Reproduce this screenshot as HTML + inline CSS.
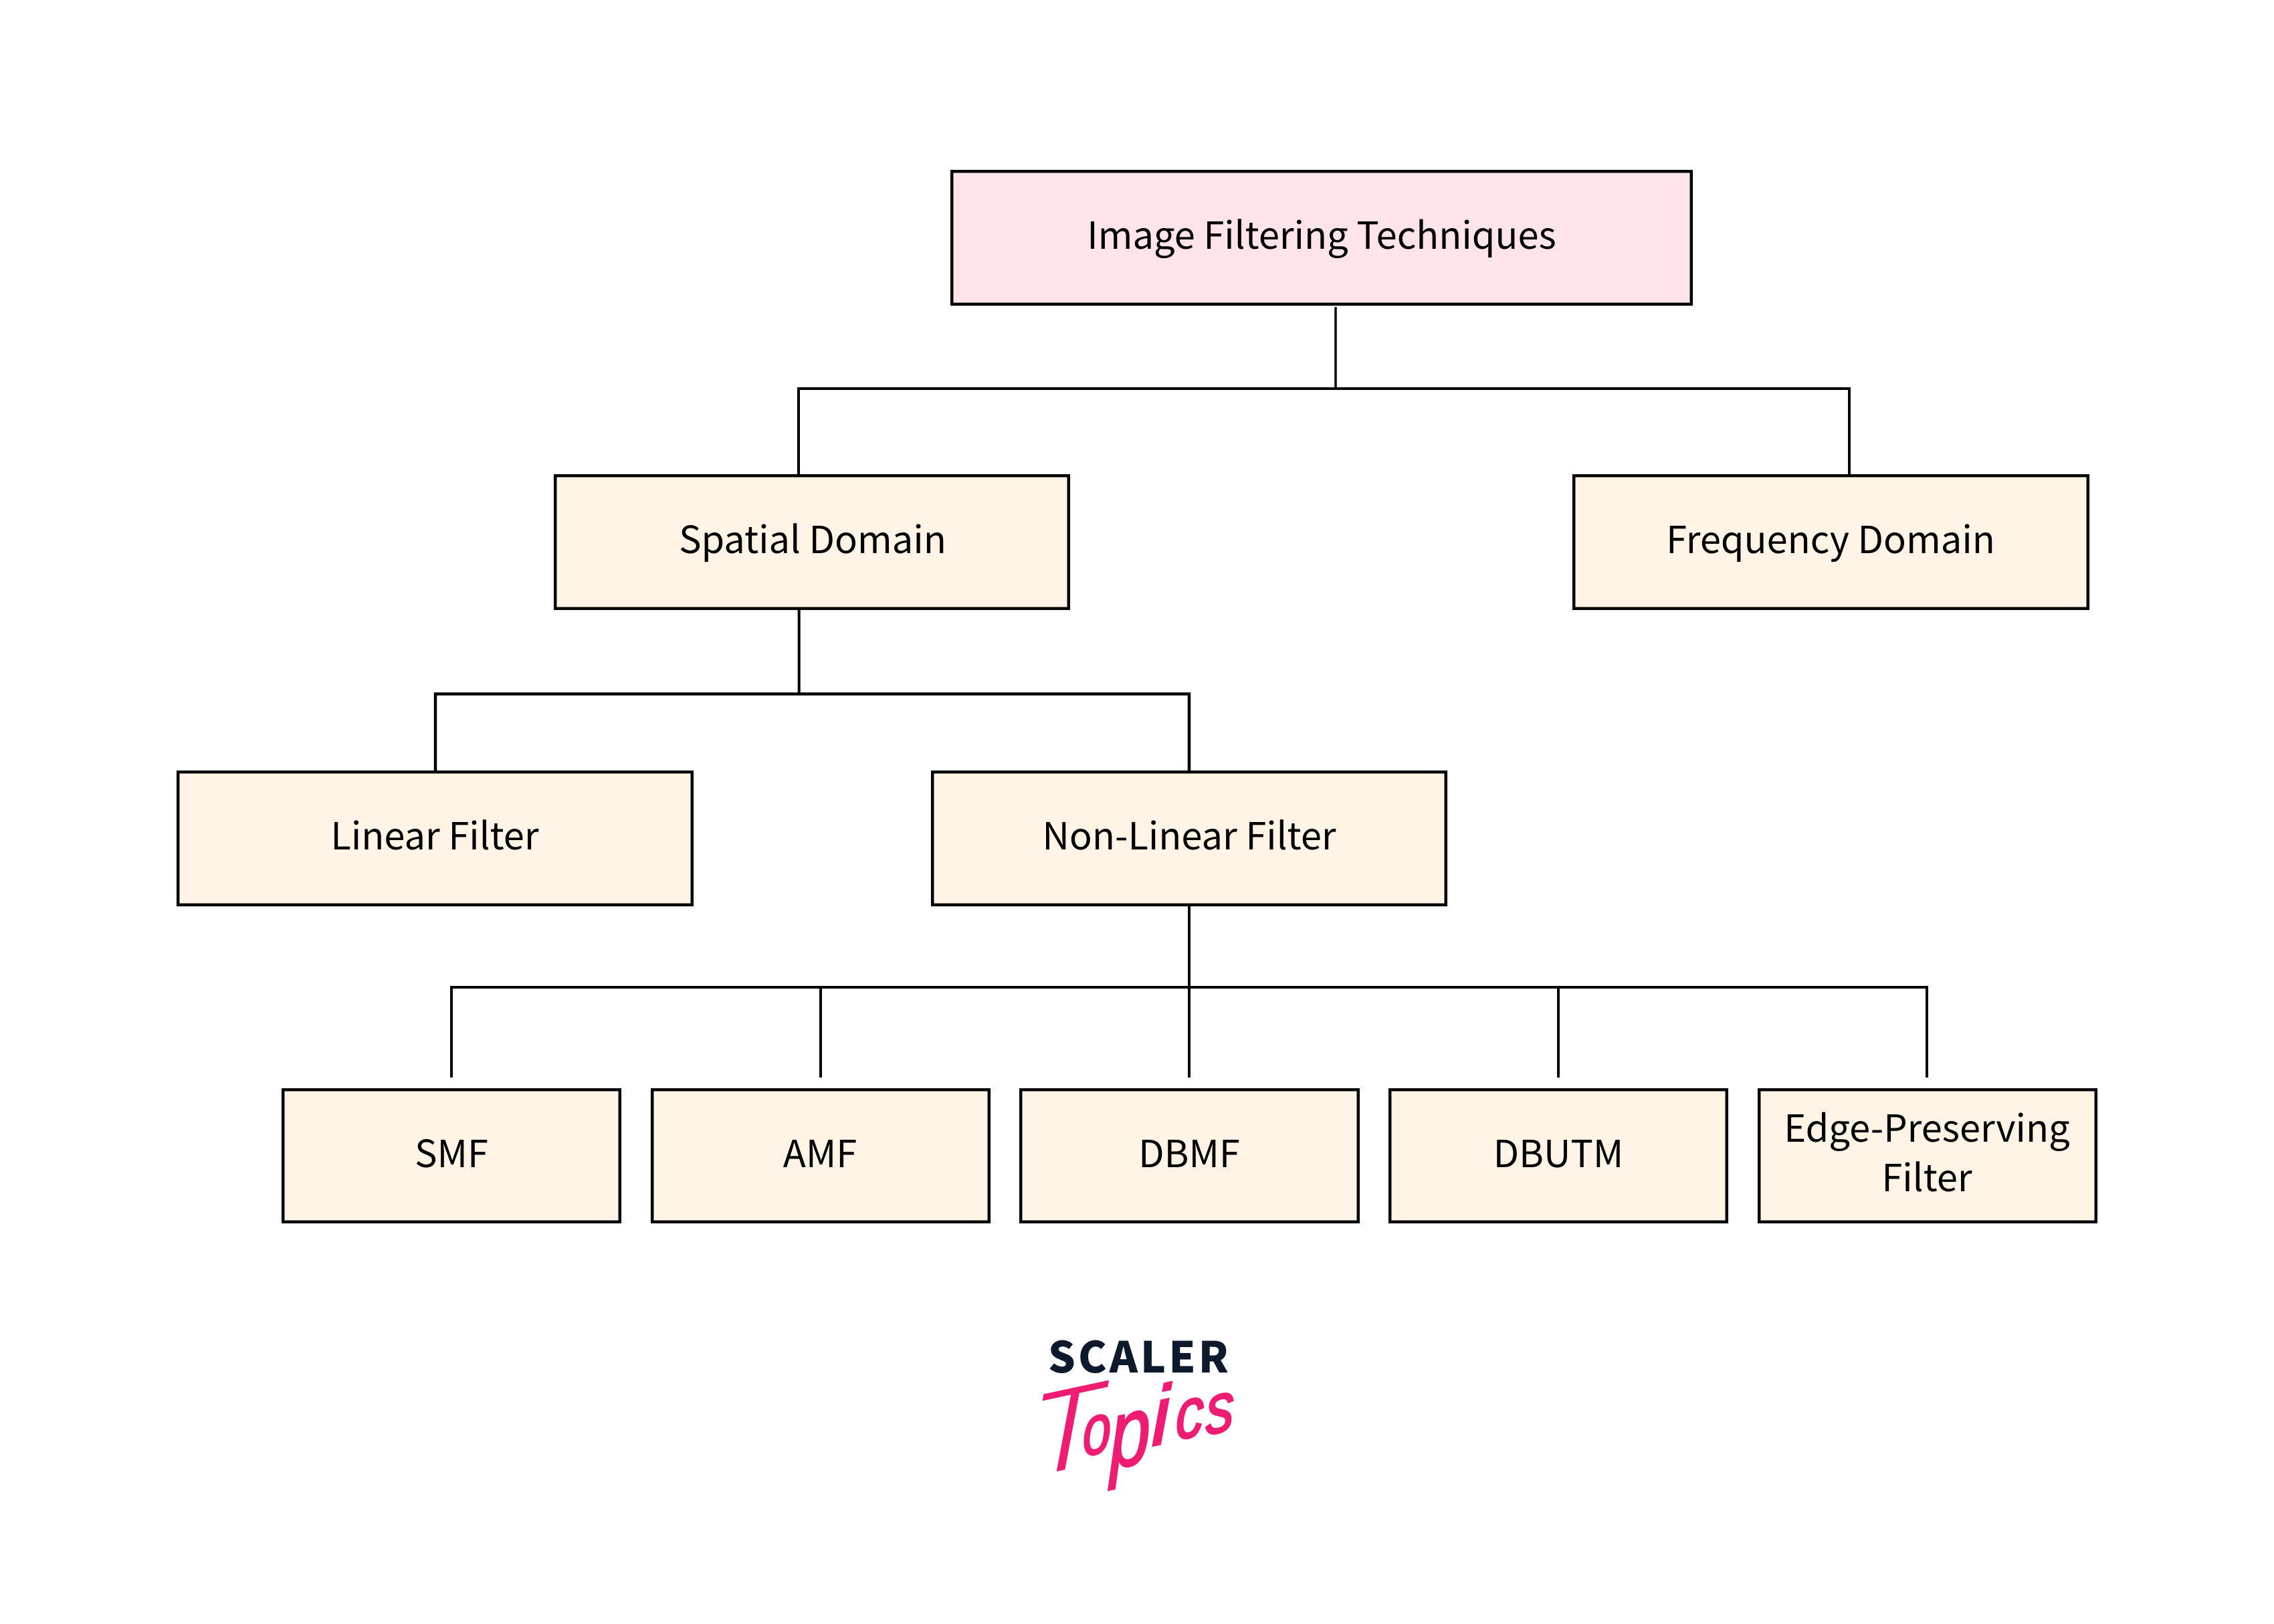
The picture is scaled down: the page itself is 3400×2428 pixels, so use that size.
<!DOCTYPE html>
<html><head><meta charset="utf-8"><style>
html,body{margin:0;padding:0;background:#fff}
svg{display:block}
.t{font-family:"Noto Sans CJK JP","Liberation Sans",sans-serif;font-size:56px;fill:#000;text-anchor:middle}
.b{fill:#fff4e6;stroke:#000;stroke-width:4.5}
.l{fill:none;stroke:#000;stroke-width:4}
</style></head><body>
<svg xmlns="http://www.w3.org/2000/svg" width="3400" height="2428" viewBox="0 0 3400 2428">
<rect width="3400" height="2428" fill="#fff"/>
<path class="l" style="stroke-width:3.5" d="M1997 459V581"/>
<path class="l" d="M1194 709V581H2765V709"/>
<path class="l" d="M1194.7 910V1037"/>
<path class="l" style="stroke-width:4.5" d="M651 1152V1037.5H1778V1152"/>
<path class="l" d="M1778 1354V1611M675 1611V1476H2881V1611M1227 1476V1611M2330 1476V1611"/>
<rect x="1423.2" y="256.2" width="1105.6" height="198.6" fill="#ffe4ea" stroke="#000" stroke-width="4.5"/>
<rect class="b" x="830.2" y="711.2" width="767.6" height="198.6"/>
<rect class="b" x="2353.2" y="711.2" width="768.6" height="198.6"/>
<rect class="b" x="266.2" y="1154.2" width="768.6" height="198.6"/>
<rect class="b" x="1394.2" y="1154.2" width="767.6" height="198.6"/>
<rect class="b" x="423.2" y="1629.2" width="503.6" height="197.6"/>
<rect class="b" x="975.2" y="1629.2" width="503.6" height="197.6"/>
<rect class="b" x="1526.2" y="1629.2" width="504.6" height="197.6"/>
<rect class="b" x="2078.2" y="1629.2" width="503.6" height="197.6"/>
<rect class="b" x="2630.2" y="1629.2" width="503.6" height="197.6"/>
<text class="t" x="1976" y="372">Image Filtering Techniques</text>
<text class="t" x="1215" y="827">Spatial Domain</text>
<text class="t" x="2737" y="827">Frequency Domain</text>
<text class="t" x="650" y="1270">Linear Filter</text>
<text class="t" x="1778" y="1270">Non-Linear Filter</text>
<text class="t" x="675" y="1745">SMF</text>
<text class="t" x="1226" y="1745">AMF</text>
<text class="t" x="1778" y="1745">DBMF</text>
<text class="t" x="2330" y="1745">DBUTM</text>
<text class="t" x="2881" y="1707">Edge-Preserving</text>
<text class="t" x="2881" y="1781">Filter</text>
<text x="1567" y="2052" textLength="270" lengthAdjust="spacing" font-family="'Noto Sans CJK JP','Liberation Sans',sans-serif" font-weight="900" font-size="64" fill="#0d1a2d">SCALER</text>
<text transform="translate(1556,2198) skewY(-12)" font-family="'Liberation Sans',sans-serif" font-style="italic" fill="#ee1c72"><tspan x="-16" y="9" font-size="180" stroke="#fff" stroke-width="4">T</tspan><tspan x="63" y="-7" font-size="105" textLength="42" lengthAdjust="spacingAndGlyphs" stroke="#ee1c72" stroke-width="3">o</tspan><tspan x="104" y="21" font-size="145" textLength="60" lengthAdjust="spacingAndGlyphs" stroke="#ee1c72" stroke-width="3">p</tspan><tspan x="166" y="-1" font-size="123" textLength="27" lengthAdjust="spacingAndGlyphs" stroke="#ee1c72" stroke-width="3">i</tspan><tspan x="202" y="-2" font-size="105" textLength="42" lengthAdjust="spacingAndGlyphs" stroke="#ee1c72" stroke-width="3">c</tspan><tspan x="247" y="0" font-size="105" textLength="42" lengthAdjust="spacingAndGlyphs" stroke="#ee1c72" stroke-width="3">s</tspan></text>
</svg>
</body></html>
